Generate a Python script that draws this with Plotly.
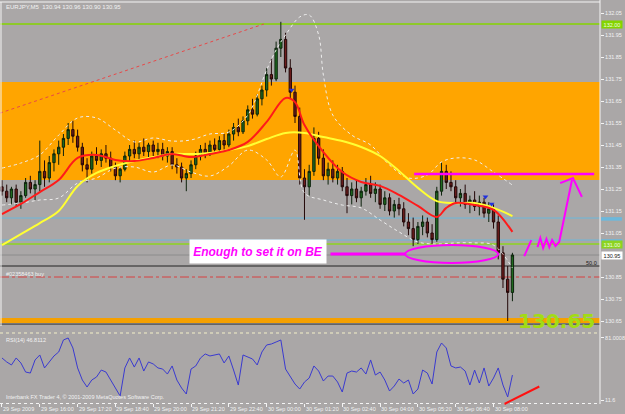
import plotly.graph_objects as go

# ---------------- data ----------------
bar_open = [131.26,131.24,131.21,131.25,131.19,131.22,131.28,131.25,131.27,131.33,
            131.30,131.37,131.41,131.44,131.48,131.52,131.49,131.44,131.36,131.34,
            131.40,131.38,131.41,131.39,131.35,131.31,131.34,131.40,131.43,131.41,
            131.44,131.42,131.45,131.42,131.43,131.40,131.42,131.36,131.35,131.30,
            131.32,131.36,131.40,131.43,131.41,131.45,131.43,131.47,131.45,131.50,
            131.53,131.51,131.56,131.61,131.59,131.66,131.70,131.77,131.75,131.89,
            131.93,131.80,131.69,131.58,131.30,131.26,131.33,131.48,131.39,131.31,
            131.34,131.30,131.33,131.26,131.22,131.25,131.21,131.24,131.27,131.23,
            131.25,131.18,131.21,131.15,131.18,131.16,131.10,131.07,131.02,131.08,
            131.10,131.05,131.02,131.24,131.33,131.28,131.26,131.21,131.23,131.18,
            131.20,131.17,131.19,131.14,131.16,131.10,130.96,130.84,130.78]
bar_high = [131.29,131.27,131.26,131.27,131.24,131.30,131.31,131.29,131.47,131.38,
            131.40,131.43,131.47,131.50,131.55,131.56,131.52,131.46,131.39,131.42,
            131.44,131.43,131.45,131.42,131.37,131.35,131.42,131.45,131.47,131.46,
            131.48,131.46,131.47,131.46,131.46,131.44,131.44,131.39,131.37,131.34,
            131.38,131.42,131.45,131.46,131.47,131.48,131.49,131.50,131.52,131.55,
            131.57,131.58,131.63,131.66,131.68,131.72,131.80,131.84,131.92,132.01,
            131.96,131.84,131.72,131.62,131.34,131.36,131.53,131.51,131.43,131.37,
            131.38,131.36,131.35,131.30,131.28,131.29,131.26,131.30,131.31,131.28,
            131.27,131.24,131.23,131.20,131.21,131.19,131.14,131.12,131.10,131.13,
            131.12,131.09,131.26,131.37,131.36,131.33,131.29,131.25,131.27,131.22,
            131.24,131.22,131.21,131.19,131.18,131.13,130.99,130.90,130.96]
bar_low = [131.22,131.19,131.18,131.17,131.16,131.21,131.23,131.20,131.24,131.26,
           131.28,131.33,131.36,131.40,131.45,131.46,131.42,131.33,131.28,131.32,
           131.36,131.35,131.37,131.33,131.29,131.28,131.33,131.37,131.39,131.38,
           131.40,131.39,131.40,131.39,131.38,131.37,131.34,131.32,131.28,131.24,
           131.30,131.34,131.38,131.39,131.40,131.41,131.42,131.43,131.44,131.47,
           131.49,131.50,131.54,131.57,131.58,131.63,131.67,131.72,131.74,131.85,
           131.78,131.66,131.55,131.27,131.11,131.22,131.31,131.36,131.29,131.27,
           131.28,131.27,131.24,131.14,131.18,131.19,131.17,131.22,131.21,131.19,
           131.16,131.15,131.13,131.12,131.13,131.08,131.04,130.99,131.00,131.04,
           131.03,131.00,131.01,131.22,131.25,131.24,131.19,131.17,131.16,131.14,
           131.15,131.13,131.12,131.10,131.07,130.93,130.80,130.65,130.74]
bar_close = [131.24,131.21,131.25,131.19,131.22,131.28,131.25,131.27,131.33,131.30,
             131.37,131.41,131.44,131.48,131.52,131.49,131.44,131.36,131.34,131.40,
             131.38,131.41,131.39,131.35,131.31,131.34,131.40,131.43,131.41,131.44,
             131.42,131.45,131.42,131.43,131.40,131.42,131.36,131.35,131.30,131.32,
             131.36,131.40,131.43,131.41,131.45,131.43,131.47,131.45,131.50,131.53,
             131.51,131.56,131.61,131.59,131.66,131.70,131.77,131.75,131.89,131.93,
             131.80,131.69,131.58,131.30,131.26,131.33,131.48,131.39,131.31,131.34,
             131.30,131.33,131.26,131.22,131.25,131.21,131.24,131.27,131.23,131.25,
             131.18,131.21,131.15,131.18,131.16,131.10,131.07,131.02,131.08,131.10,
             131.05,131.02,131.24,131.33,131.28,131.26,131.21,131.23,131.18,131.20,
             131.17,131.19,131.14,131.16,131.10,130.96,130.84,130.78,130.95]

red_ma_bars = [0,4,8,12,16,20,24,28,32,36,40,44,48,52,56,60,62,64,68,72,76,80,84,88,92,94,96,100,104,108]
red_ma = [131.136,131.182,131.236,131.291,131.391,131.405,131.382,131.377,131.391,131.409,
          131.395,131.409,131.427,131.464,131.555,131.664,131.645,131.541,131.418,131.327,
          131.282,131.264,131.223,131.173,131.123,131.164,131.186,131.177,131.155,131.055]
yellow_ma_bars = [0,4,8,12,16,20,24,28,32,36,40,44,48,52,56,60,64,68,72,76,80,84,88,92,96,100,104,108]
yellow_ma = [130.995,131.045,131.095,131.150,131.264,131.323,131.355,131.377,131.395,131.409,
             131.409,131.414,131.427,131.445,131.477,131.505,131.505,131.486,131.468,131.441,
             131.400,131.332,131.255,131.195,131.186,131.186,131.164,131.127]
upper_band_bars = [0,4,8,12,16,20,24,28,32,36,40,44,48,52,56,58,60,63,65,67,68,70,74,78,82,86,90,93,96,100,104,108]
upper_band = [131.345,131.368,131.405,131.495,131.573,131.573,131.518,131.464,131.482,131.468,
              131.473,131.500,131.509,131.586,131.791,131.882,131.950,132.032,132.041,131.950,
              131.768,131.586,131.495,131.450,131.359,131.300,131.314,131.373,131.391,131.382,
              131.327,131.268]
lower_band_bars = [0,4,8,12,16,20,24,28,32,36,40,44,48,52,56,59,62,64,68,72,76,80,84,88,92,96,100,104,108]
lower_band = [131.177,131.186,131.200,131.209,131.277,131.300,131.345,131.350,131.327,131.359,
              131.327,131.309,131.355,131.427,131.382,131.305,131.427,131.232,131.200,131.177,
              131.164,131.109,131.055,131.009,131.000,131.005,131.005,130.995,130.891]

rsi_values = [57.9,53.5,50.2,57.9,52.4,42.4,41.3,55.7,61.2,46.9,
              53.5,60.1,64.5,77.7,79.9,68.9,46.9,33.6,25.9,33.6,
              36.9,44.6,42.4,33.6,23.7,16.0,46.9,57.9,47.9,57.9,
              43.5,53.5,51.3,46.9,45.7,40.2,49.1,33.6,24.8,18.2,
              45.7,49.1,57.9,62.3,60.1,61.2,62.3,52.4,60.1,44.6,
              28.1,61.2,59.0,56.8,50.2,64.5,72.2,73.3,75.5,77.7,
              45.7,38.0,29.2,23.7,31.4,35.8,49.1,43.5,32.5,38.0,
              38.0,31.4,20.4,41.3,43.5,42.4,46.9,40.2,55.7,39.1,
              42.4,33.6,21.5,27.0,34.7,30.3,33.6,18.2,23.7,44.6,
              41.3,29.2,64.5,74.4,68.9,49.1,46.9,47.9,43.5,28.1,
              44.6,30.3,46.9,27.0,35.8,46.9,28.1,14.9,39.1]

time_label_bars = [0,8,16,24,32,40,48,56,64,72,80,88,96,104]
time_labels = ["29 Sep 2009","29 Sep 16:00","29 Sep 17:20","29 Sep 18:40","29 Sep 20:00",
               "29 Sep 21:20","29 Sep 22:40","30 Sep 00:00","30 Sep 01:20","30 Sep 02:40",
               "30 Sep 04:00","30 Sep 05:20","30 Sep 06:40","30 Sep 08:00"]
price_ticks = [132.05,131.95,131.85,131.75,131.65,131.55,131.45,131.35,131.25,131.15,
               131.05,130.85,130.75,130.65]

# horizontal levels
level_green_top = 132.00
level_blue_1 = 131.118
level_blue_2 = 131.018
level_green_low = 131.00
level_bid = 130.95
level_fib50 = 130.90
level_order = 130.85
level_orange = 130.652
level_black = 130.636
zone_top, zone_bottom = 131.736, 131.291

blue_arrow_bars = [61.3, 102.3, 103.6]
blue_arrow_prices = [131.70, 131.215, 131.182]

# ---------------- style ----------------
BG = "#aaa7a7"
TXT = "#f2f2f2"
MAG = "#ff00ff"
FONT = "Liberation Sans, Arial, sans-serif"
W, H = 625, 414
ML, MR, MT, MB = 0, 22, 2, 11
PW, PH = W - ML - MR, H - MT - MB


def PX(px):
    return (px - ML) / PW


def PY(py):
    return (H - MB - py) / PH


bars = list(range(len(bar_close)))

fig = go.Figure()
fig.add_trace(go.Candlestick(
    x=bars, open=bar_open, high=bar_high, low=bar_low, close=bar_close,
    increasing=dict(line=dict(color="#0c220c", width=1), fillcolor="#1f6a1f"),
    decreasing=dict(line=dict(color="#220808", width=1), fillcolor="#6e1c1c"),
    whiskerwidth=0, xaxis="x", yaxis="y", showlegend=False, hoverinfo="skip"))

fig.add_trace(go.Scatter(x=upper_band_bars, y=upper_band, mode="lines",
                         line=dict(color="#eeeeee", width=1, dash="dot", shape="spline"),
                         xaxis="x", yaxis="y", showlegend=False, hoverinfo="skip"))
fig.add_trace(go.Scatter(x=lower_band_bars, y=lower_band, mode="lines",
                         line=dict(color="#eeeeee", width=1, dash="dot", shape="spline"),
                         xaxis="x", yaxis="y", showlegend=False, hoverinfo="skip"))
fig.add_trace(go.Scatter(x=yellow_ma_bars, y=yellow_ma, mode="lines",
                         line=dict(color="#ffff33", width=2, shape="spline"),
                         xaxis="x", yaxis="y", showlegend=False, hoverinfo="skip"))
fig.add_trace(go.Scatter(x=red_ma_bars, y=red_ma, mode="lines",
                         line=dict(color="#ff1a1a", width=2, shape="spline"),
                         xaxis="x", yaxis="y", showlegend=False, hoverinfo="skip"))
fig.add_trace(go.Scatter(x=blue_arrow_bars, y=blue_arrow_prices, mode="markers",
                         marker=dict(symbol="triangle-down", size=5, color="#2030e0"),
                         xaxis="x", yaxis="y", showlegend=False, hoverinfo="skip"))

fig.add_trace(go.Scatter(x=list(range(len(rsi_values))), y=rsi_values, mode="lines",
                         line=dict(color="#3a3ad0", width=1),
                         xaxis="x2", yaxis="y2", showlegend=False, hoverinfo="skip"))

shapes = []
# orange zone
shapes.append(dict(type="rect", xref="paper", yref="y", x0=0, x1=1, y0=zone_bottom, y1=zone_top,
                   fillcolor="#ffa500", line=dict(width=0), layer="below"))


def hline(y, color, width=1, dash="solid"):
    shapes.append(dict(type="line", xref="paper", yref="y", x0=0, x1=1, y0=y, y1=y,
                       line=dict(color=color, width=width, dash=dash), layer="below"))


hline(level_green_top, "#84d400", 1.6)
hline(level_blue_1, "#6cb8dc", 1)
hline(level_blue_2, "#6cb8dc", 1)
hline(level_green_low, "#8cd420", 1.6)
hline(level_bid, "#8c8c8c", 1)
hline(level_fib50, "#222222", 1)
hline(level_order, "#d84040", 1, "dashdot")
hline(level_orange, "#f5a000", 5)
hline(level_black, "#333333", 1)

# blue level markers on the price scale (colour strips)
for yv in (level_blue_1, level_blue_2):
    shapes.append(dict(type="rect", xref="paper", yref="y", x0=PX(604), x1=PX(625),
                       y0=yv - 0.012, y1=yv + 0.004, fillcolor="#6cb8dc", line=dict(width=0)))

# red dotted trend line
shapes.append(dict(type="line", xref="x", yref="y", x0=-0.42, y0=131.595, x1=55.4, y1=132.0,
                   line=dict(color="#e84848", width=1, dash="dot"), layer="below"))

# frame lines
shapes.append(dict(type="line", xref="paper", yref="paper", x0=0, x1=1, y0=PY(2), y1=PY(2),
                   line=dict(color="#f4f4f4", width=1)))
shapes.append(dict(type="line", xref="paper", yref="paper", x0=PX(1), x1=PX(1), y0=PY(2), y1=PY(326),
                   line=dict(color="#f4f4f4", width=1)))
shapes.append(dict(type="line", xref="paper", yref="paper", x0=PX(603), x1=PX(603), y0=PY(0), y1=PY(404),
                   line=dict(color="#f4f4f4", width=1)))
shapes.append(dict(type="line", xref="paper", yref="paper", x0=0, x1=PX(603), y0=PY(333), y1=PY(333),
                   line=dict(color="#f4f0c8", width=1, dash="dot")))
shapes.append(dict(type="line", xref="paper", yref="paper", x0=0, x1=PX(603), y0=PY(403.5), y1=PY(403.5),
                   line=dict(color="#f4f4f4", width=1, dash="dot")))

# magenta hand drawings (bar index / price)
shapes.append(dict(type="circle", xref="x", yref="y", x0=85.3, x1=105.0, y0=130.914, y1=130.995,
                   line=dict(color=MAG, width=2)))
shapes.append(dict(type="line", xref="x", yref="y", x0=69.5, x1=85.3, y0=130.955, y1=130.955,
                   line=dict(color=MAG, width=3)))
shapes.append(dict(type="line", xref="x", yref="y", x0=87.2, x1=125.3, y0=131.318, y1=131.318,
                   line=dict(color=MAG, width=2.5)))
stroke1 = [(110.5, 130.945), (112.0, 131.018)]
stroke2 = [(113.3, 130.986), (113.9, 131.027), (114.5, 130.982), (115.2, 131.023), (115.8, 130.986),
           (116.4, 131.018), (117.1, 130.991), (117.9, 131.009), (120.6, 131.291)]
stroke3 = [(118.1, 131.277), (120.8, 131.300), (122.7, 131.214)]


def path(pts):
    return "M " + " L ".join(f"{x},{y}" for x, y in pts)


for st in (stroke1, stroke2, stroke3):
    shapes.append(dict(type="path", xref="x", yref="y", path=path(st),
                       line=dict(color=MAG, width=2)))
# RSI trend line (red)
shapes.append(dict(type="line", xref="paper", yref="paper", x0=PX(507), y0=PY(404), x1=PX(542), y1=PY(386.5),
                   line=dict(color="#ff1010", width=2)))

ann = []


def txt(px, py, s, size=5.5, color=TXT, anchor="left", **kw):
    ann.append(dict(xref="paper", yref="paper", x=PX(px), y=PY(py), text=s, showarrow=False,
                    xanchor=anchor, yanchor="middle", font=dict(family=FONT, size=size, color=color), **kw))


txt(4, 7, "EURJPY,M5  130.94 130.96 130.90 130.95", size=6)
txt(4, 274, "#02358463 buy")
txt(602, 263, "50.0", color="#1a1a1a", anchor="right")
txt(4, 340, "RSI(14) 46.8112")
txt(4, 397, "Interbank FX Trader 4, © 2001-2009 MetaQuotes Software Corp.")

for b, lab in zip(time_label_bars, time_labels):
    ann.append(dict(xref="x2", yref="paper", x=b - 0.2, y=PY(409), text=lab, showarrow=False,
                    xanchor="left", yanchor="middle", font=dict(family=FONT, size=5.5, color=TXT)))

# big price text
ann.append(dict(xref="paper", yref="y", x=PX(559), y=level_orange, text="<b>130.65</b>", showarrow=False,
                xanchor="center", yanchor="middle",
                font=dict(family="DejaVu Sans, sans-serif", size=20, color="#a2dc14")))

# note box
ann.append(dict(xref="x", yref="y", x=54.2, y=130.966, text="<b><i>Enough to set it on BE</i></b>",
                showarrow=False, xanchor="center", yanchor="middle", bgcolor="#ffffff",
                width=134, height=21, font=dict(family=FONT, size=12, color=MAG)))

# axis price boxes
for yv, lab, bg, fc in [(level_green_top, "132.00", "#84d400", "#f0ffe0"),
                        (level_green_low, "131.00", "#8cd420", "#f0ffe0"),
                        (level_bid, "130.95", "#ffffff", "#202020")]:
    ann.append(dict(xref="paper", yref="y", x=PX(604), y=yv, text=lab, showarrow=False,
                    xanchor="left", yanchor="middle", bgcolor=bg, width=20, height=7, borderpad=0,
                    font=dict(family=FONT, size=5.5, color=fc)))

fig.update_layout(
    width=W, height=H, autosize=False,
    margin=dict(l=ML, r=MR, t=MT, b=MB),
    paper_bgcolor=BG, plot_bgcolor=BG,
    showlegend=False,
    shapes=shapes, annotations=ann,
    xaxis=dict(domain=[0, 1], range=[-0.42, 126.53], anchor="y", showgrid=False, zeroline=False,
               showticklabels=False, ticks="", showline=False, rangeslider=dict(visible=False), fixedrange=True),
    yaxis=dict(domain=[PY(326), 1], range=[130.6273, 132.10], side="right", anchor="x",
               tickvals=price_ticks, ticktext=[f"{v:.2f}" for v in price_ticks],
               ticks="outside", ticklen=3, tickcolor="#f4f4f4", showgrid=False, zeroline=False,
               showline=False, tickfont=dict(family=FONT, size=5.5, color=TXT)),
    xaxis2=dict(domain=[0, 1], range=[-0.42, 126.53], anchor="y2", matches="x", showgrid=False,
                zeroline=False, showticklabels=False, ticks="outside", ticklen=3, tickcolor="#f4f4f4",
                tickvals=time_label_bars, showline=False),
    yaxis2=dict(domain=[0, PY(333)], range=[8.3, 85.4], side="right", anchor="x2",
                tickvals=[79.9, 11.6], ticktext=["81.0008", "11.6"], ticks="outside", ticklen=3,
                tickcolor="#f4f4f4", showgrid=False, zeroline=False, showline=False,
                tickfont=dict(family=FONT, size=5.5, color=TXT)),
)

fig.write_html("out.html")
